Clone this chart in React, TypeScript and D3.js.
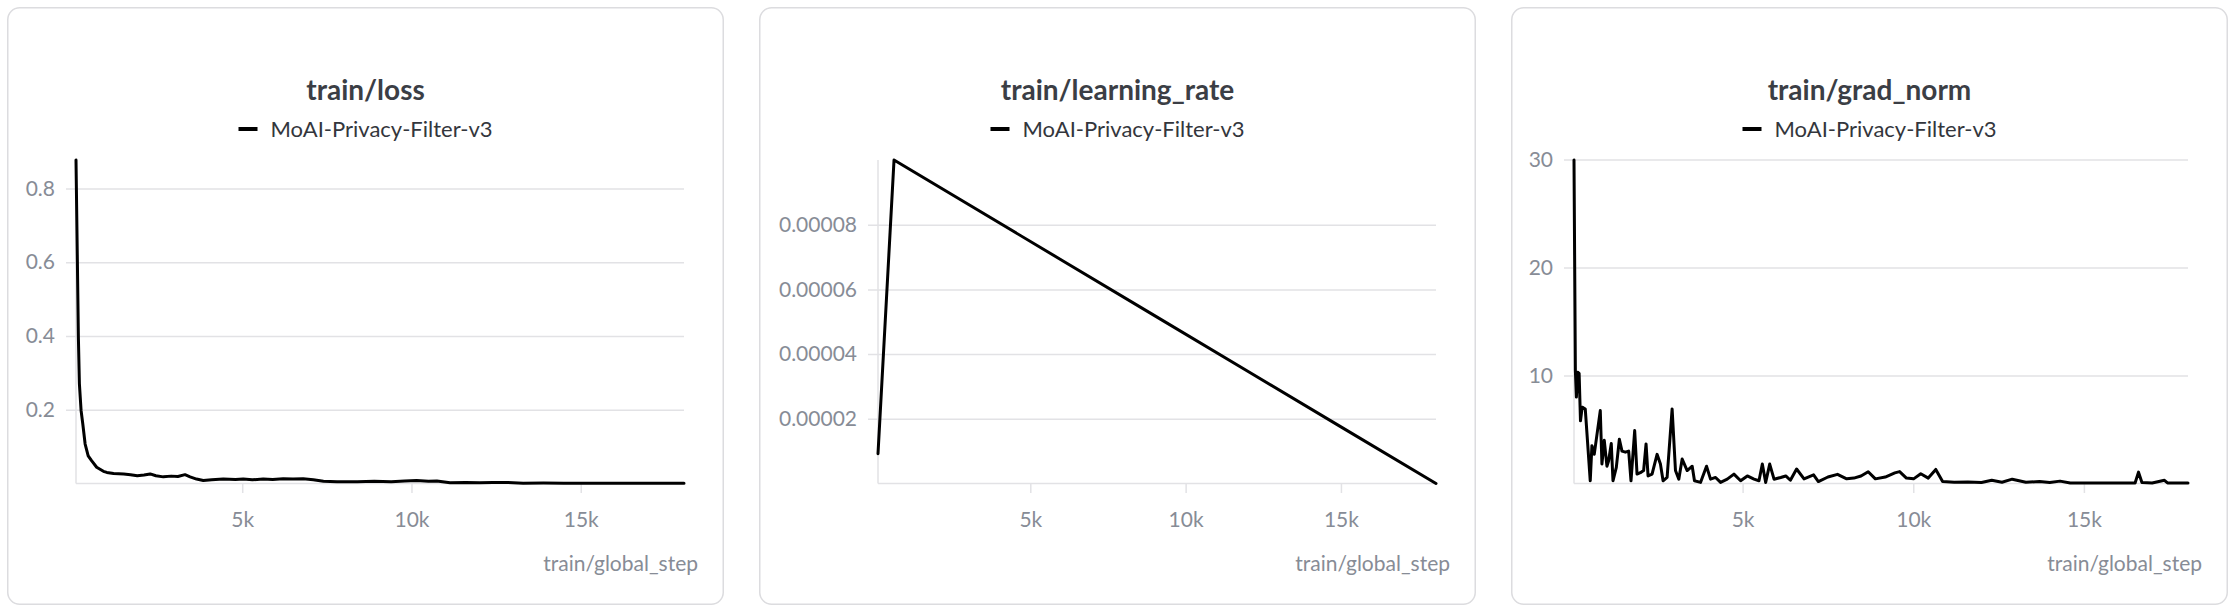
import * as d3 from 'd3';
import { useEffect, useRef } from 'react';

// run + axes
const runName = 'MoAI-Privacy-Filter-v3';
const xLabel = 'train/global_step';
const xTicks = [5000, 10000, 15000];

// train/loss
const lossSteps = [
    90, 130, 160, 190, 240, 290, 360, 450, 550, 700,
    900, 1000, 1200, 1500, 1700, 1900, 2100, 2280, 2450, 2670,
    2900, 3100, 3310, 3460, 3650, 3850, 4100, 4440, 4800, 5030,
    5300, 5620, 5900, 6210, 6500, 6800, 7100, 7400, 7800, 8400,
    8900, 9400, 9800, 10150, 10500, 10750, 11140, 11600, 12020, 12400,
    12810, 13300, 13900, 14500, 15300, 16000, 17000, 18050,
];
const lossValues = [
    0.877, 0.607, 0.398, 0.271, 0.198, 0.162, 0.107, 0.075, 0.062, 0.044,
    0.033, 0.03, 0.027, 0.026, 0.024, 0.021, 0.023, 0.026, 0.021, 0.018,
    0.02, 0.019, 0.024, 0.018, 0.012, 0.008, 0.01, 0.012, 0.011, 0.012,
    0.01, 0.012, 0.011, 0.013, 0.012, 0.013, 0.01, 0.006, 0.005, 0.005,
    0.006, 0.005, 0.007, 0.008, 0.006, 0.007, 0.002, 0.003, 0.002, 0.003,
    0.003, 0.001, 0.0015, 0.001, 0.0005, 0.0005, 0.0005, 0.0005,
];
const lossTicks = [0.2, 0.4, 0.6, 0.8];

// train/learning_rate
const lrSteps = [97, 613, 3000, 6000, 9000, 12000, 15000, 18060];
const lrValues = [0.92e-5, 1e-4, 8.63e-5, 6.91e-5, 5.19e-5, 3.47e-5, 1.75e-5, 0];
const lrTicks = [2e-5, 4e-5, 6e-5, 8e-5];

// train/grad_norm
const gradSteps = [
    60, 100, 130, 170, 210, 250, 300, 390, 536, 585,
    653, 830, 878, 947, 1025, 1075, 1152, 1202, 1300, 1389,
    1466, 1564, 1662, 1730, 1838, 1907, 2005, 2100, 2171, 2230,
    2347, 2494, 2592, 2670, 2788, 2935, 3033, 3131, 3229, 3376,
    3523, 3590, 3767, 3943, 4061, 4208, 4355, 4550, 4746, 4942,
    5138, 5334, 5480, 5578, 5676, 5794, 5921, 6117, 6264, 6400,
    6582, 6800, 7080, 7220, 7500, 7780, 8050, 8260, 8470, 8680,
    8890, 9180, 9460, 9600, 9800, 10010, 10220, 10440, 10660, 10860,
    11200, 11600, 12000, 12300, 12600, 12900, 13300, 13700, 14000, 14300,
    14600, 15000, 15500, 16000, 16500, 16600, 16700, 17000, 17360, 17450,
    18050,
];
const gradValues = [
    29.95, 10.5, 8.0, 10.3, 10.2, 5.8, 7.07, 6.9, 0.25, 3.5,
    2.7, 6.75, 1.8, 4.0, 1.6, 2.1, 3.7, 0.25, 1.5, 4.1,
    3.0, 2.9, 3.0, 0.25, 4.9, 0.87, 1.0, 1.2, 3.66, 0.7,
    0.87, 2.7, 1.8, 0.25, 0.56, 6.9, 1.2, 0.4, 2.26, 1.2,
    1.6, 0.25, 0.1, 1.6, 0.4, 0.56, 0.1, 0.4, 0.87, 0.25,
    0.7, 0.4, 0.25, 1.8, 0.1, 1.8, 0.4, 0.56, 0.7, 0.3,
    1.34, 0.43, 0.8, 0.18, 0.6, 0.85, 0.43, 0.5, 0.7, 1.09,
    0.43, 0.6, 0.98, 1.1, 0.5, 0.43, 0.9, 0.5, 1.3, 0.18,
    0.12, 0.15, 0.1, 0.3, 0.12, 0.4, 0.12, 0.18, 0.1, 0.22,
    0.05, 0.05, 0.05, 0.05, 0.05, 1.05, 0.1, 0.05, 0.3, 0.05,
    0.05,
];
const gradTicks = [10, 20, 30];

const FONT = 'Lato, "Open Sans", sans-serif';
const GRID = '#e2e2e5';
const MUTED = '#878c96';

type PanelProps = {
    left: number;
    title: string;
    steps: number[];
    values: number[];
    yTicks: number[];
    yFormat: (v: number) => string;
    marginLeft: number;
};

function Panel({ left, title, steps, values, yTicks, yFormat, marginLeft }: PanelProps) {
    const ref = useRef<SVGGElement>(null);

    const panelW = 717,
        panelH = 598,
        top = 7;
    const margin = { top: 160 - top, right: 40, bottom: panelH + top - 483.5, left: marginLeft };
    const width = panelW - margin.left - margin.right,
        height = panelH - margin.top - margin.bottom;

    useEffect(() => {
        const root = d3.select(ref.current);
        root.selectAll('*').remove();

        root.append('rect')
            .attr('x', 0.75)
            .attr('y', 0.75)
            .attr('width', panelW - 1.5)
            .attr('height', panelH - 1.5)
            .attr('rx', 12)
            .attr('fill', '#fff')
            .attr('stroke', '#dcdcdf')
            .attr('stroke-width', 1.5);

        root.append('text')
            .attr('x', panelW / 2)
            .attr('y', 100 - top)
            .attr('text-anchor', 'middle')
            .attr('font-family', FONT)
            .attr('font-weight', 700)
            .attr('font-size', 28)
            .attr('fill', '#3b3e45')
            .text(title);

        const legend = root.append('g');
        legend.append('rect')
            .attr('x', 0)
            .attr('y', -2)
            .attr('width', 19)
            .attr('height', 4)
            .attr('fill', '#000');
        legend.append('text')
            .attr('x', 32)
            .attr('y', 8)
            .attr('font-family', FONT)
            .attr('font-size', 22)
            .attr('fill', '#33363c')
            .text(runName);
        const lw = (legend.node() as SVGGElement).getBBox().width;
        legend.attr('transform', `translate(${panelW / 2 - lw / 2},${129 - top})`);

        const svg = root.append('g').attr('transform', `translate(${margin.left},${margin.top})`);

        const x = d3
            .scaleLinear()
            .domain([steps[0], steps[steps.length - 1]])
            .range([0, width]);
        const y = d3
            .scaleLinear()
            .domain([0, d3.max(values) as number])
            .range([height, 0]);

        // gridlines + y labels
        const yAxis = svg
            .append('g')
            .call(
                d3
                    .axisLeft(y)
                    .tickValues(yTicks)
                    .tickSize(-width - 10)
                    .tickPadding(21)
                    .tickFormat((d) => yFormat(d as number)),
            )
            .attr('transform', 'translate(-10,0)');
        yAxis.select('.domain').remove();
        yAxis.selectAll('line').attr('stroke', GRID).attr('stroke-width', 1.5).attr('x1', 0).attr('x2', width + 10);
        yAxis.selectAll('text')
            .attr('x', -11)
            .attr('font-family', FONT)
            .attr('font-size', 21)
            .attr('fill', MUTED);

        // x axis
        const xAxis = svg
            .append('g')
            .attr('transform', `translate(0,${height})`)
            .call(
                d3
                    .axisBottom(x)
                    .tickValues(xTicks)
                    .tickSize(9.5)
                    .tickPadding(19)
                    .tickFormat((d) => `${(d as number) / 1000}k`),
            );
        xAxis.select('.domain').attr('stroke', GRID).attr('stroke-width', 1.5).attr('d', `M0,0H${width}`);
        xAxis.selectAll('line').attr('stroke', GRID).attr('stroke-width', 1.5);
        xAxis.selectAll('text')
            .attr('font-family', FONT)
            .attr('font-size', 21)
            .attr('fill', MUTED);

        svg.append('line')
            .attr('x1', 0)
            .attr('x2', 0)
            .attr('y1', 0)
            .attr('y2', height)
            .attr('stroke', GRID)
            .attr('stroke-width', 1.5);

        svg.append('text')
            .attr('x', width + 14)
            .attr('y', 571 - 160)
            .attr('text-anchor', 'end')
            .attr('font-family', FONT)
            .attr('font-size', 21)
            .attr('fill', MUTED)
            .text(xLabel);

        const line = d3
            .line<number>()
            .x((_, i) => x(steps[i]))
            .y((d) => y(d));

        svg.append('path')
            .datum(values)
            .attr('d', line)
            .attr('fill', 'none')
            .attr('stroke', '#000')
            .attr('stroke-width', 3)
            .attr('stroke-linejoin', 'round')
            .attr('stroke-linecap', 'round');
    }, [title, steps, values, yTicks, yFormat, width, height, margin.left, margin.top]);

    return <g ref={ref} transform={`translate(${left},${top})`} />;
}

const fmtLoss = (v: number) => d3.format('.1f')(v);
const fmtLr = (v: number) => d3.format('.5f')(v);
const fmtGrad = (v: number) => d3.format('d')(v);

export default function App() {
    return (
        <svg
            width={2236}
            height={614}
            style={{ position: 'absolute', left: 0, top: 0, background: '#fff' }}
        >
            <Panel left={7} title="train/loss" steps={lossSteps} values={lossValues} yTicks={lossTicks} yFormat={fmtLoss} marginLeft={69} />
            <Panel left={759} title="train/learning_rate" steps={lrSteps} values={lrValues} yTicks={lrTicks} yFormat={fmtLr} marginLeft={119} />
            <Panel left={1511} title="train/grad_norm" steps={gradSteps} values={gradValues} yTicks={gradTicks} yFormat={fmtGrad} marginLeft={63} />
        </svg>
    );
}
